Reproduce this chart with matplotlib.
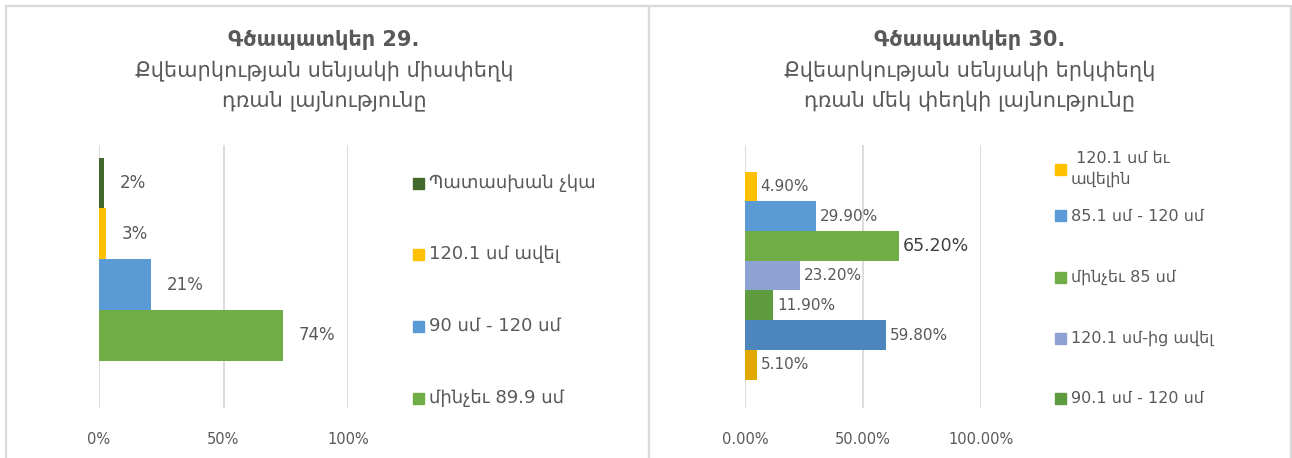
import matplotlib.pyplot as plt
from matplotlib.patches import Rectangle
from matplotlib.ticker import FuncFormatter

plt.rcParams['font.family'] = ['DejaVu Sans']

# Գծապատկեր 29 - միափեղկ դուռ
labels_29 = ['Պատասխան չկա', '120.1 սմ ավել', '90 սմ - 120 սմ', 'մինչեւ 89.9 սմ']
values_29 = [2, 3, 21, 74]
colors_29 = ['#43682B', '#FFC000', '#5B9BD5', '#70AD47']

# Գծապատկեր 30 - երկփեղկ դուռ
labels_30 = [' 120.1 սմ եւ\nավելին', '85.1 սմ - 120 սմ', 'մինչեւ 85 սմ',
             '120.1 սմ-ից ավել', '90.1 սմ - 120 սմ']
values_30 = [4.90, 29.90, 65.20, 23.20, 11.90, 59.80, 5.10]
colors_30 = ['#FFC000', '#5B9BD5', '#70AD47', '#8FA2D4', '#5E9A3E', '#4D86BF', '#E0A800']

W, H = 1292, 458
GREY = '#595959'
GRID = '#D9D9D9'

fig = plt.figure(figsize=(W / 100, H / 100), dpi=100)


def fx(x):
    return x / W


def fy(y):
    return 1 - y / H


# рамки двух панелей
for x0, x1 in [(6, 649), (649, 1291)]:
    fig.patches.append(Rectangle((fx(x0), fy(470)), fx(x1 - x0), (470 - 6) / H,
                                 transform=fig.transFigure, fill=False,
                                 edgecolor=GRID, lw=1.6))


def panel(left, right, top, bottom, first, step, values, colors, fmt, tickfmt, offset, big=None):
    ax = fig.add_axes([fx(left), fy(bottom), fx(right - left), (bottom - top) / H])
    pos = list(range(len(values)))
    ax.barh(pos, values, height=1.0, color=colors)
    ax.set_xlim(0, 100)
    ax.set_ylim((bottom - first) / step, (top - first) / step)
    ax.set_xticks([0, 50, 100])
    ax.xaxis.set_major_formatter(FuncFormatter(tickfmt))
    ax.tick_params(axis='x', length=0, pad=17, labelsize=10.5, labelcolor=GREY)
    ax.set_yticks([])
    ax.grid(axis='x', color=GRID, lw=1.3)
    ax.set_axisbelow(True)
    for s in ax.spines.values():
        s.set_visible(False)
    for i, v in enumerate(values):
        size, col = (12.5, '#404040') if i == big else (fmt[1], GREY)
        ax.annotate(fmt[0].format(v), (v, i), xytext=(offset, 0), textcoords='offset points',
                    va='center', ha='left', fontsize=size, color=col)
    return ax


panel(99, 348, 145, 408, 183, 50.8, values_29, colors_29, ('{:.0f}%', 12),
      lambda v, p: f'{v:.0f}%', 11)
panel(745, 981, 145, 408, 186.5, 29.7, values_30, colors_30, ('{:.2f}%', 11),
      lambda v, p: f'{v:.2f}%', 3, big=2)

# заголовки
for cx, num, line1, line2 in [
        (324, '29', 'Քվեարկության սենյակի միափեղկ', 'դռան լայնությունը'),
        (970, '30', 'Քվեարկության սենյակի երկփեղկ', 'դռան մեկ փեղկի լայնությունը')]:
    fig.text(fx(cx), fy(40), f'Գծապատկեր {num}.', ha='center', va='center',
             fontsize=15, fontweight='bold', color=GREY)
    fig.text(fx(cx), fy(71), line1, ha='center', va='center', fontsize=15, color=GREY)
    fig.text(fx(cx), fy(101), line2, ha='center', va='center', fontsize=15, color=GREY)


# легенды
def legend(x, ys, labels, colors, size):
    for y, lab, col in zip(ys, labels, colors):
        fig.patches.append(Rectangle((fx(x), fy(y + 5.5)), fx(11), 11 / H,
                                     transform=fig.transFigure, color=col))
        fig.text(fx(x + 16), fy(y), lab, ha='left', va='center', fontsize=size,
                 color=GREY, linespacing=1.45)


legend(413, [183, 254, 326, 398], labels_29, colors_29, 13)
legend(1055, [169, 216, 277, 338, 398], labels_30, colors_30[:5], 11.5)

fig.savefig('out.png', dpi=100, facecolor='white')
